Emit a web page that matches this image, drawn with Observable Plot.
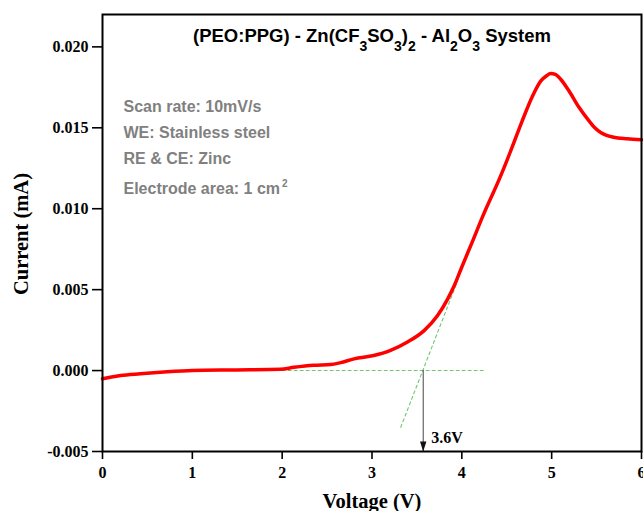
<!DOCTYPE html>
<html>
<head>
<meta charset="utf-8">
<script src="https://cdn.jsdelivr.net/npm/d3@7"></script>
<script src="https://cdn.jsdelivr.net/npm/@observablehq/plot@0.6"></script>
<style>
  html, body { margin: 0; padding: 0; background: #fff; }
  #chart { width: 643px; height: 511px; }
</style>
</head>
<body>
<div id="chart"></div>
<script>
// ---- Data ----
const voltage = [0, 0.1, 0.2, 0.42, 0.72, 1.0, 1.46, 1.98, 2.13, 2.35, 2.54, 2.65, 2.8, 3.02, 3.2, 3.39, 3.58, 3.73, 3.84, 3.92, 4.0, 4.12, 4.23, 4.43, 4.56, 4.67, 4.79, 4.88, 4.94, 4.99, 5.04, 5.1, 5.19, 5.3, 5.42, 5.48, 5.55, 5.69, 5.84, 6.0];
const current = [-0.00051, -0.0004, -0.00031, -0.0002, -0.00008, 0, 0.00004, 0.00008, 0.0002, 0.00033, 0.00037, 0.00049, 0.00072, 0.00093, 0.00123, 0.00175, 0.00247, 0.0034, 0.0044, 0.0053, 0.0064, 0.0080, 0.0095, 0.0120, 0.0138, 0.0154, 0.0170, 0.0179, 0.0182, 0.01835, 0.0183, 0.0180, 0.0173, 0.0163, 0.0154, 0.0150, 0.0147, 0.01442, 0.01432, 0.01426];

const baselineX = [2.0, 4.25];
const baselineY = [0, 0];
const tangentX = [3.32, 3.95];
const tangentY = [-0.0035, 0.0055];
const onsetV = [3.57];
const onsetLabel = ["3.6V"];

const xTicks = [0, 1, 2, 3, 4, 5, 6];
const yTicks = [-0.005, 0, 0.005, 0.010, 0.015, 0.020];

const titleParts = [["(PEO:PPG) - Zn(CF", ""], ["3", "sub"], ["SO", ""], ["3", "sub"], [")", ""], ["2", "sub"], [" - Al", ""], ["2", "sub"], ["O", ""], ["3", "sub"], [" System", ""]];
const titleText = titleParts.map(d => d[0]).join("");
const noteLines = ["Scan rate: 10mV/s", "WE: Stainless steel", "RE & CE: Zinc", "Electrode area: 1 cm"];
const noteSup = "2";
const xLabel = "Voltage (V)";
const yLabel = "Current (mA)";

// ---- Layout constants ----
const noteDy = [97, 123, 149, 179];
const serif = "'Liberation Serif', 'Times New Roman', serif";
const sans = "'Liberation Sans', Arial, sans-serif";

const curveData = voltage.map((v, i) => ({v, c: current[i]}));

const arrowHead = {
  draw(context) {
    context.moveTo(0, 0);
    context.lineTo(-3.2, -10);
    context.lineTo(3.2, -10);
    context.closePath();
  }
};

const chart = Plot.plot({
  width: 643,
  height: 511,
  marginLeft: 102,
  marginRight: 2,
  marginTop: 14,
  marginBottom: 60,
  x: {domain: [0, 6]},
  y: {domain: [-0.005, 0.022]},
  style: {fontFamily: serif, background: "#fff", color: "#000"},
  marks: [
    Plot.axisX({ticks: xTicks, tickSize: 8, tickPadding: 7, tickFormat: d => String(d), fontSize: 16, fontWeight: "bold", label: null, strokeWidth: 1.6}),
    Plot.axisY({ticks: yTicks, tickSize: 10, tickPadding: 4, tickFormat: d => d.toFixed(3), fontSize: 16, fontWeight: "bold", label: null, strokeWidth: 1.6}),
    Plot.line(d3.range(baselineX.length), {x: baselineX, y: baselineY, stroke: "#72c472", strokeWidth: 1.1, strokeDasharray: "3,3"}),
    Plot.line(d3.range(tangentX.length), {x: tangentX, y: tangentY, stroke: "#72c472", strokeWidth: 1.1, strokeDasharray: "3,3"}),
    Plot.line(curveData, {x: "v", y: "c", stroke: "#ff0000", strokeWidth: 3.5, curve: "monotone-x"}),
    Plot.ruleX(onsetV, {x: d => d, y1: () => 0, y2: () => -0.005, stroke: "#444", strokeWidth: 1}),
    Plot.dot(onsetV, {x: d => d, y: () => -0.005, symbol: arrowHead, fill: "#111", stroke: "none", r: 5}),
    Plot.text(onsetLabel, {x: () => onsetV[0], y: () => -0.005, text: d => d, textAnchor: "start", lineAnchor: "bottom", dx: 8, dy: -9, fontSize: 16, fontWeight: "bold", fontFamily: serif, fill: "#000"}),
    Plot.frame({stroke: "#000", strokeWidth: 2}),
    Plot.text([titleText], {frameAnchor: "top", text: d => d, textAnchor: "middle", lineAnchor: "bottom", dy: 27, fontSize: 18.5, fontWeight: "bold", fontFamily: sans, fill: "#000"}),
    ...noteLines.map((line, i) => Plot.text([line], {frameAnchor: "top-left", text: d => d, textAnchor: "start", lineAnchor: "bottom", dx: 21, dy: noteDy[i], fontSize: 16, fontWeight: "bold", fontFamily: sans, fill: "#808080"})),
    Plot.text([xLabel], {frameAnchor: "bottom", text: d => d, textAnchor: "middle", lineAnchor: "bottom", dy: 56, fontSize: 20.5, fontWeight: "bold", fontFamily: serif, fill: "#000"}),
    Plot.text([yLabel], {frameAnchor: "left", text: d => d, textAnchor: "middle", lineAnchor: "bottom", rotate: -90, dx: -75, dy: 1, fontSize: 20.5, fontWeight: "bold", fontFamily: serif, fill: "#000"})
  ]
});

// Rich text: subscripts in the title, superscript in the electrode-area note
function setRich(el, parts, subSize, subShift, supShift, gap) {
  const sel = d3.select(el);
  sel.text(null);
  let shift = 0;
  for (const [t, kind] of parts) {
    const target = kind === "sub" ? subShift : kind === "sup" ? supShift : 0;
    const ts = sel.append("tspan").text(t).attr("dy", (target - shift) + "px");
    if (kind) ts.attr("font-size", subSize);
    if (kind === "sup" && gap) ts.attr("dx", gap + "px");
    shift = target;
  }
}
d3.select(chart).selectAll("text").each(function() {
  if (this.textContent === titleText) {
    setRich(this, titleParts, 14, 9, 0, 0);
  } else if (this.textContent === noteLines[3]) {
    setRich(this, [[noteLines[3], ""], [noteSup, "sup"]], 10, 0, -7, 2);
  }
});

document.getElementById("chart").appendChild(chart);
</script>
</body>
</html>
